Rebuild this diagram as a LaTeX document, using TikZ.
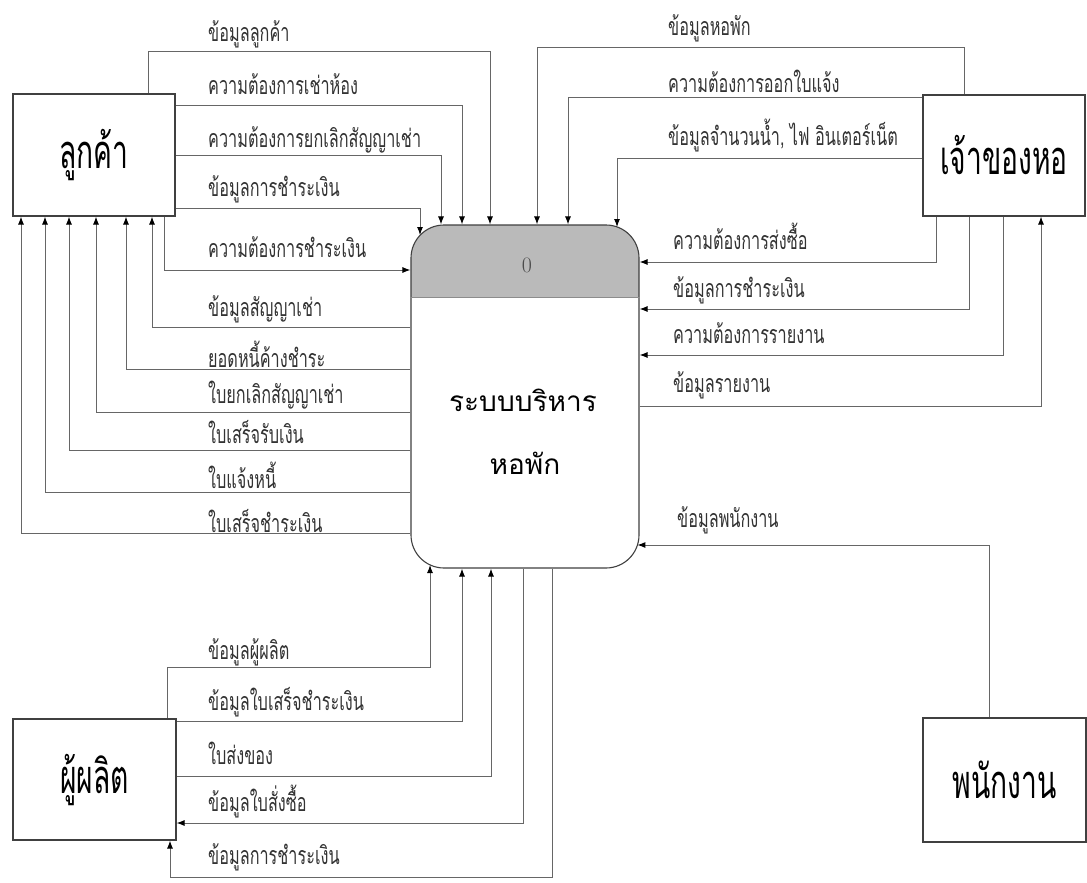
\documentclass[tikz,border=0pt]{standalone}
\usepackage{fontspec}
\newfontfamily\thai[Script=Thai]{Loma}
\newfontfamily\thaicond[Script=Thai,FakeStretch=0.65]{Loma}
\newfontfamily\thaititle[Script=Thai,FakeStretch=0.6]{Loma}
\usetikzlibrary{arrows.meta,calc}
\begin{document}
\begin{tikzpicture}[x=1pt,y=-1pt,
 ent/.style={draw=black!75, line width=1.1pt, inner sep=0pt, font=\thaititle\fontsize{47}{47}\selectfont},
 lbl/.style={anchor=west, inner sep=0pt, text=black!80, font=\thaicond\fontsize{25}{25}\selectfont},
 fl/.style={draw=black!60, line width=1pt},
 arr/.style={fl, -{Latex[length=8pt,width=6pt,color=black]}},
]
\useasboundingbox[fill=white] (0,0) rectangle (1087,883);

% entities
\node[ent, minimum width=162pt, minimum height=122pt] (C) at (94,155) {ลูกค้า};
\node[ent, minimum width=162pt, minimum height=121pt] (O) at (1004,155.5) {เจ้าของหอ};
\node[ent, minimum width=163pt, minimum height=121pt] (M) at (94.5,779.5) {ผู้ผลิต};
\node[ent, minimum width=163pt, minimum height=124pt] (E) at (1004.5,780) {พนักงาน};

% process
\begin{scope}
\clip (411,225) rectangle (639,297);
\fill[black!27, rounded corners=33pt] (411,225) rectangle (639,568);
\end{scope}
\node[draw=black!75, line width=1.1pt, rounded corners=33pt, minimum width=228pt, minimum height=343pt, inner sep=0pt] (P) at (525,396.5) {};
\draw[black!45, line width=0.8pt] (P.west |- 0,297) -- (P.east |- 0,297);
\node[text=black!70, font=\fontsize{22}{22}\selectfont] (P0) at (527,265) {0};
\node[font=\thai\fontsize{28}{28}\selectfont] (P1) at (523,400) {ระบบบริหาร};
\node[font=\thai\fontsize{28}{28}\selectfont] (P2) at (525,463) {หอพัก};

% customer -> process
\draw[arr] (C.north -| 148,0) -- ++(0,-42) -| (P.north -| 490,0);
\draw[arr] (C.east |- 0,105) -| (P.north -| 462,0);
\draw[arr] (C.east |- 0,155) -| (P.north -| 441,0);
\coordinate (pa) at (420,235);
\draw[arr] (C.east |- 0,208) -| (pa);
\draw[arr] (C.south -| 164,0) |- (P.west |- 0,270);
% process -> customer
\draw[arr] (P.west |- 0,327) -| (C.south -| 152,0);
\draw[arr] (P.west |- 0,369) -| (C.south -| 126,0);
\draw[arr] (P.west |- 0,412) -| (C.south -| 96,0);
\draw[arr] (P.west |- 0,450) -| (C.south -| 69,0);
\draw[arr] (P.west |- 0,492) -| (C.south -| 45,0);
\draw[arr] (P.west |- 0,533) -| (C.south -| 21,0);

\node[lbl] (l1) at (208,34) {ข้อมูลลูกค้า};
\node[lbl] (l2) at (208,84) {ความต้องการเช่าห้อง};
\node[lbl] (l3) at (208,140) {ความต้องการยกเลิกสัญญาเช่า};
\node[lbl] (l4) at (208,189) {ข้อมูลการชำระเงิน};
\node[lbl] (l5) at (208,247) {ความต้องการชำระเงิน};
\node[lbl] (l6) at (208,309) {ข้อมูลสัญญาเช่า};
\node[lbl] (l7) at (208,354) {ยอดหนี้ค้างชำระ};
\node[lbl] (l8) at (208,395) {ใบยกเลิกสัญญาเช่า};
\node[lbl] (l9) at (208,432) {ใบเสร็จรับเงิน};
\node[lbl] (l10) at (208,475) {ใบแจ้งหนี้};
\node[lbl] (l11) at (208,521) {ใบเสร็จชำระเงิน};

% owner <-> process
\draw[arr] (O.north -| 964,0) -- ++(0,-47) -| (P.north -| 537,0);
\draw[arr] (O.west |- 0,97) -| (P.north -| 568,0);
\coordinate (pb) at (617,227);
\draw[arr] (O.west |- 0,158) -| (pb);
\draw[arr] (O.south -| 936,0) |- (P.east |- 0,262);
\draw[arr] (O.south -| 969,0) |- (P.east |- 0,309);
\draw[arr] (O.south -| 1003,0) |- (P.east |- 0,355);
\draw[arr] (P.east |- 0,406) -| (O.south -| 1041,0);

\node[lbl] (r1) at (668,28) {ข้อมูลหอพัก};
\node[lbl] (r2) at (668,81) {ความต้องการออกใบแจ้ง};
\node[lbl] (r3) at (668,136) {ข้อมูลจำนวนน้ำ, ไฟ อินเตอร์เน็ต};
\node[lbl] (r4) at (673,236) {ความต้องการส่งซื้อ};
\node[lbl] (r5) at (673,290) {ข้อมูลการชำระเงิน};
\node[lbl] (r6) at (673,333) {ความต้องการรายงาน};
\node[lbl] (r7) at (673,385) {ข้อมูลรายงาน};

% employee -> process
\coordinate (pc) at (637.4,545);
\draw[arr] (E.north -| 989,0) |- (pc);
\node[lbl] (e1) at (677,520) {ข้อมูลพนักงาน};

% producer <-> process
\coordinate (pd) at (430,565);
\draw[arr] (M.north -| 167,0) -- ++(0,-51) -| (pd);
\draw[arr] (M.east |- 0,721) -| (P.south -| 462,0);
\draw[arr] (M.east |- 0,776) -| (P.south -| 491,0);
\draw[arr] (P.south -| 523,0) |- (M.east |- 0,823);
\draw[arr] (P.south -| 552,0) -- (552,877) -| (M.south -| 170,0);

\node[lbl] (b1) at (208,652) {ข้อมูลผู้ผลิต};
\node[lbl] (b2) at (208,702) {ข้อมูลใบเสร็จชำระเงิน};
\node[lbl] (b3) at (208,753) {ใบส่งของ};
\node[lbl] (b4) at (208,802) {ข้อมูลใบสั่งซื้อ};
\node[lbl] (b5) at (208,857) {ข้อมูลการชำระเงิน};
\end{tikzpicture}
\end{document}
